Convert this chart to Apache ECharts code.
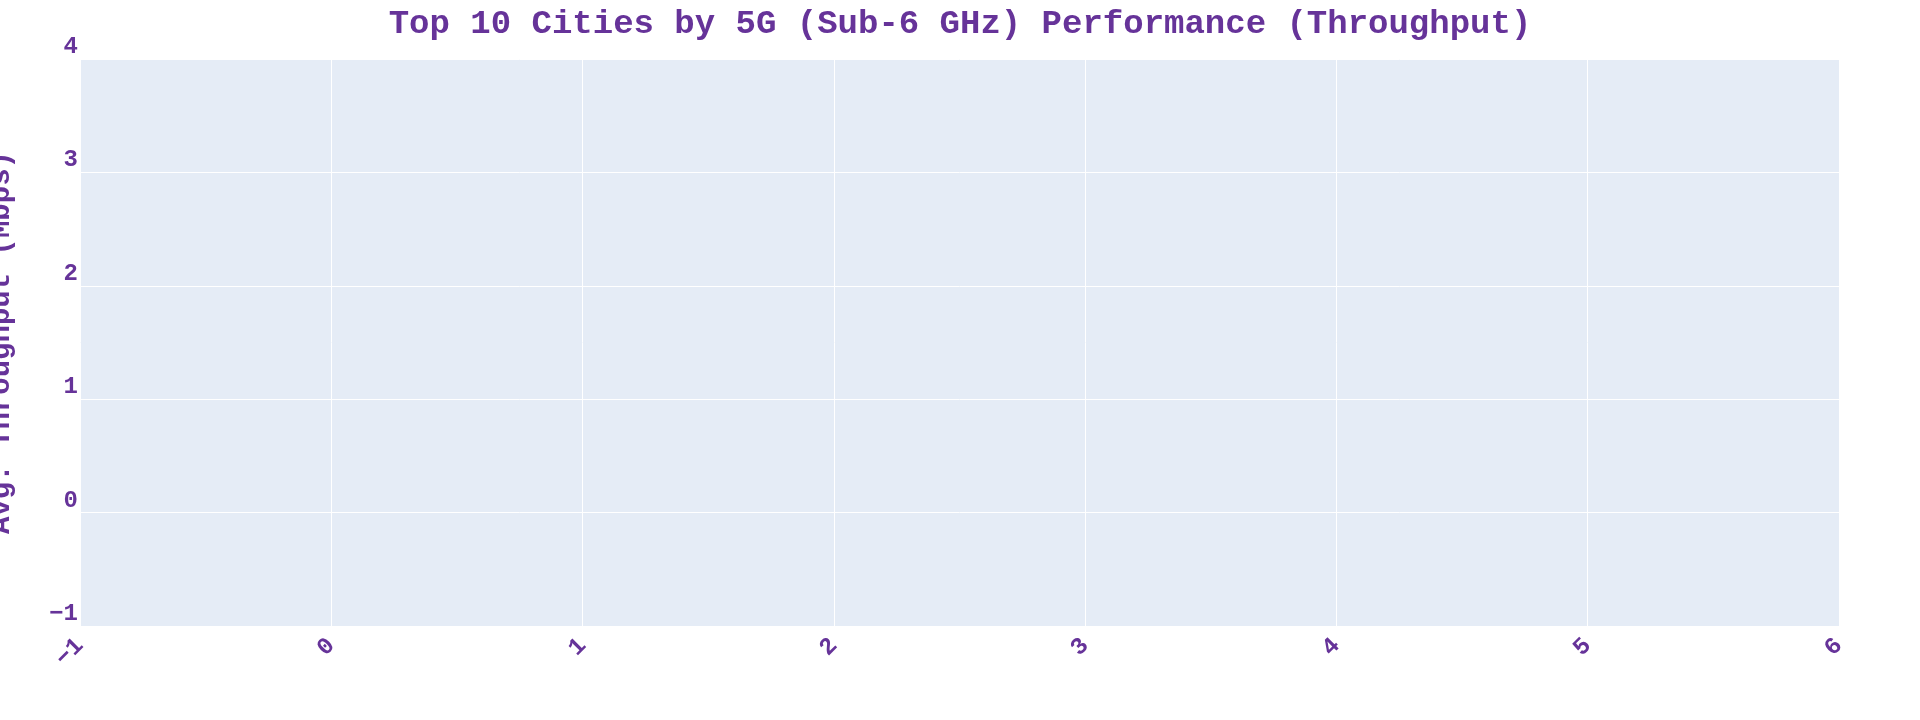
<!DOCTYPE html>
<html><head><meta charset="utf-8">
<script src="https://cdn.jsdelivr.net/npm/echarts@6/dist/echarts.min.js"></script>
<style>html,body{margin:0;padding:0;background:#fff}#c{width:1920px;height:720px}</style>
</head><body><div id="c"></div>
<script>
// The reference chart contains no data points (empty plot)
const cities = [];
const throughput = [];
const xRange = [-1, 6];
const yRange = [-1, 4];
const titleText = 'Top 10 Cities by 5G (Sub-6 GHz) Performance (Throughput)';
const yTitle = 'Avg. Throughput (Mbps)';

const purple = '#663399';
const font = '"Liberation Mono", "DejaVu Sans Mono", monospace';
const fmt = v => String(v).replace('-', '\u2212');
const chart = echarts.init(document.getElementById('c'));
chart.setOption({
  backgroundColor: '#fff',
  title: { text: titleText, left: 'center', top: 2,
    textStyle: { color: purple, fontFamily: font, fontSize: 34, fontWeight: 'bold' } },
  grid: { left: 80, right: 81, top: 59, bottom: 94, show: true, backgroundColor: '#E5ECF6', borderWidth: 0,
    outerBoundsMode: 'none', containLabel: false },
  xAxis: { type: 'value', min: xRange[0], max: xRange[1], interval: 1,
    axisLine: { show: false }, axisTick: { show: false },
    splitLine: { lineStyle: { color: '#fff', width: 1 } },
    axisLabel: { rotate: 45, margin: 16, formatter: fmt, color: purple, fontFamily: font, fontSize: 24, fontWeight: 'bold' } },
  yAxis: { type: 'value', min: yRange[0], max: yRange[1], interval: 1,
    name: yTitle, nameLocation: 'middle', nameGap: 64,
    nameTextStyle: { color: purple, fontFamily: font, fontSize: 29, fontWeight: 'bold' },
    axisLine: { show: false }, axisTick: { show: false },
    splitLine: { lineStyle: { color: '#fff', width: 1 } },
    axisLabel: { formatter: fmt, margin: 2, verticalAlign: 'bottom', color: purple, fontFamily: font, fontSize: 24, fontWeight: 'bold' } },
  series: [{ type: 'bar', data: cities.map((c, i) => [i, throughput[i]]) }]
});
</script></body></html>
